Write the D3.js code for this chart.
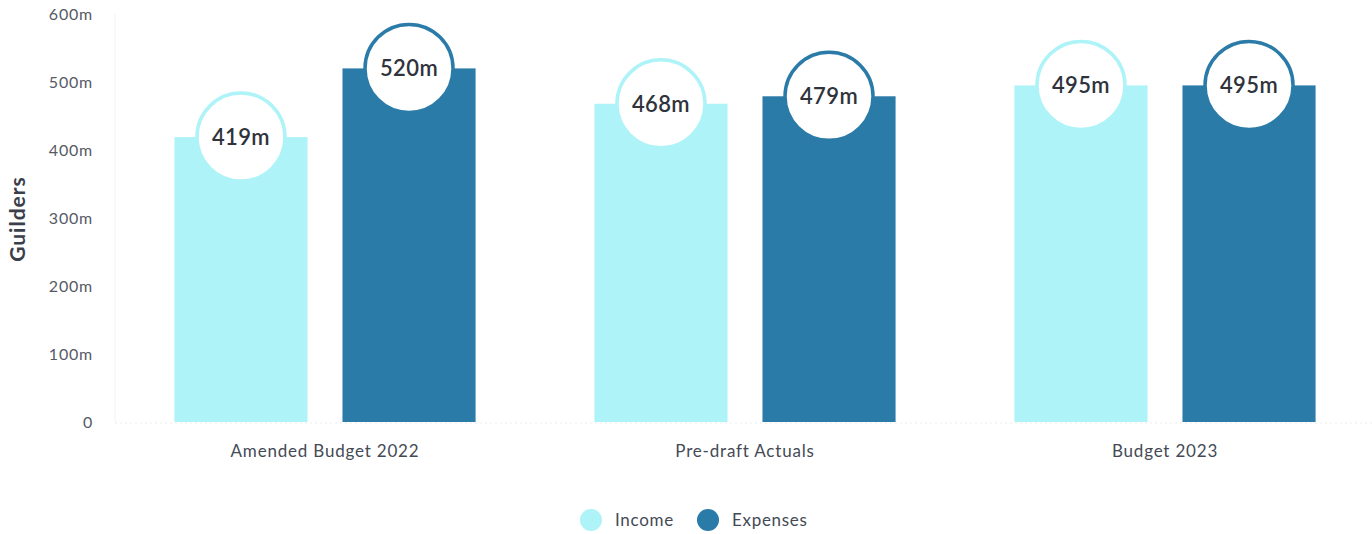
<!DOCTYPE html>
<html>
<head>
<meta charset="utf-8">
<script src="https://cdn.jsdelivr.net/npm/d3@7"></script>
<style>
  body { margin: 0; background: #fff; }
  svg { font-family: Lato, "Open Sans", sans-serif; }
</style>
</head>
<body>
<div id="chart"></div>
<script>
const CATEGORIES = ['Amended Budget 2022', 'Pre-draft Actuals', 'Budget 2023'];
const SERIES = ['Income', 'Expenses'];
const INCOME = [419, 468, 495];
const EXPENSES = [520, 479, 495];
const Y_TICKS = [0, 100, 200, 300, 400, 500, 600];
const COLORS = ['#aef3f7', '#2b7ba8'];

const width = 1372, height = 534;

const svg = d3.select('#chart').append('svg')
  .attr('width', width)
  .attr('height', height);

const x0 = d3.scaleBand()
  .domain(CATEGORIES)
  .range([115, 1375])
  .paddingInner(0.283)
  .paddingOuter(0.1415);

const x1 = d3.scaleBand()
  .domain(SERIES)
  .range([0, x0.bandwidth()])
  .paddingInner(0.208);

const y = d3.scaleLinear().domain([0, 600]).range([422, 14]);

const color = d3.scaleOrdinal().domain(SERIES).range(COLORS);

// faint axis line
svg.append('line')
  .attr('x1', 115).attr('x2', 115)
  .attr('y1', y(600)).attr('y2', y(0))
  .attr('stroke', '#f3f3f3');

// baseline
svg.append('line')
  .attr('x1', 115).attr('x2', 1372)
  .attr('y1', y(0) + 1).attr('y2', y(0) + 1)
  .attr('stroke', '#ececec')
  .attr('stroke-dasharray', '2,3');

// y axis
const yAxis = svg.append('g')
  .attr('transform', 'translate(96,0)')
  .call(d3.axisLeft(y).tickValues(Y_TICKS).tickSize(0)
    .tickFormat(d => d === 0 ? '0' : d + 'm'));
yAxis.select('.domain').remove();
yAxis.selectAll('text')
  .attr('font-family', 'Lato, sans-serif')
  .attr('font-size', 16)
  .attr('letter-spacing', 0.8)
  .attr('fill', '#555a66');

svg.append('text')
  .attr('transform', 'translate(25,219) rotate(-90)')
  .attr('text-anchor', 'middle')
  .attr('font-size', 21)
  .attr('letter-spacing', 1)
  .attr('font-weight', 'bold')
  .attr('fill', '#3a3f4a')
  .text('Guilders');

// x axis labels
const xAxis = svg.append('g')
  .attr('transform', 'translate(0,' + (y(0) + 20) + ')')
  .call(d3.axisBottom(x0).tickSize(0));
xAxis.select('.domain').remove();
xAxis.selectAll('text')
  .attr('font-family', 'Lato, sans-serif')
  .attr('font-size', 17)
  .attr('letter-spacing', 0.8)
  .attr('fill', '#444a55');

const rows = CATEGORIES.map((c, i) => ({
  category: c,
  values: [
    { key: 'Income', value: INCOME[i] },
    { key: 'Expenses', value: EXPENSES[i] }
  ]
}));

const groups = svg.selectAll('.group')
  .data(rows)
  .enter()
  .append('g')
  .attr('class', 'group')
  .attr('transform', d => 'translate(' + x0(d.category) + ',0)');

groups.selectAll('rect')
  .data(d => d.values)
  .enter()
  .append('rect')
  .attr('x', d => x1(d.key))
  .attr('y', d => y(d.value))
  .attr('width', x1.bandwidth())
  .attr('height', d => y(0) - y(d.value))
  .style('fill', d => color(d.key));

groups.selectAll('circle')
  .data(d => d.values)
  .enter()
  .append('circle')
  .attr('cx', d => x1(d.key) + x1.bandwidth() / 2)
  .attr('cy', d => y(d.value))
  .attr('r', 44)
  .attr('fill', '#fff')
  .attr('stroke', d => color(d.key))
  .attr('stroke-width', 3.5);

groups.selectAll('.lbl')
  .data(d => d.values)
  .enter()
  .append('text')
  .attr('class', 'lbl')
  .attr('x', d => x1(d.key) + x1.bandwidth() / 2)
  .attr('y', d => y(d.value))
  .attr('dy', '0.36em')
  .attr('text-anchor', 'middle')
  .attr('font-size', 22)
  .attr('letter-spacing', 0.4)
  .attr('font-weight', 600)
  .attr('fill', '#2f333b')
  .text(d => d.value + 'm');

// legend
const legend = svg.append('g').attr('transform', 'translate(591,520)');
const legendX = [0, 117];
SERIES.forEach((s, i) => {
  const g = legend.append('g').attr('transform', 'translate(' + legendX[i] + ',0)');
  g.append('circle').attr('r', 11).attr('fill', color(s));
  g.append('text')
    .attr('x', 24)
    .attr('dy', '0.35em')
    .attr('font-size', 17)
    .attr('letter-spacing', 0.7)
    .attr('fill', '#444a55')
    .text(s);
});
</script>
</body>
</html>
